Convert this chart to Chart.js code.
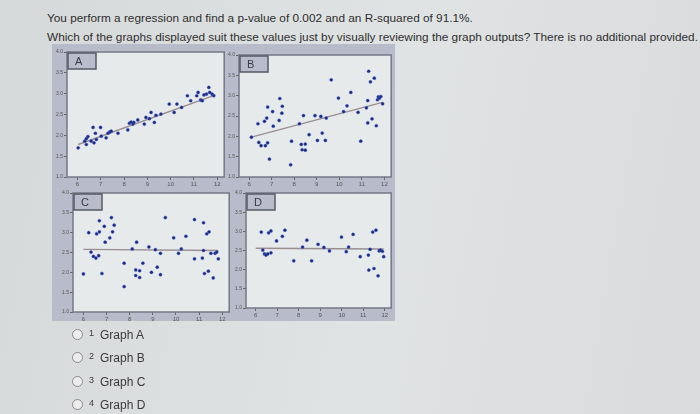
<!DOCTYPE html>
<html>
<head>
<meta charset="utf-8">
<script src="https://cdn.jsdelivr.net/npm/chart.js@4.4.1/dist/chart.umd.min.js"></script>
<style>
  body { margin: 0; width: 700px; height: 414px; overflow: hidden; position: relative;
         background: linear-gradient(100deg, #d6d9d9 0%, #e0e3e3 55%, #d9dbdc 100%);
         font-family: "Liberation Sans", Arial, sans-serif; color: #2e2e2e; }
  .q { position: absolute; left: 47px; top: 9px; font-size: 11.8px; line-height: 19px; white-space: nowrap; }
  .fig { position: absolute; left: 52px; top: 44px; width: 343px; height: 277px; background: #b8bbc9; }
  canvas { position: absolute; }
  .opt { position: absolute; left: 72px; font-size: 12px; color: #3a3a3a; }
  .opt .r { display: inline-block; width: 9px; height: 9px; border: 1px solid #8a8a8a; border-radius: 50%;
            background: #ececec; vertical-align: -1px; }
  .opt sup { font-size: 9px; margin: 0 6px 0 6px; vertical-align: 3px; }
</style>
</head>
<body>
<div class="q">You perform a regression and find a p-value of 0.002 and an R-squared of 91.1%.<br>Which of the graphs displayed suit these values just by visually reviewing the graph outputs? There is no additional provided.</div>
<div class="fig"></div>
<canvas id="gA" width="176" height="142" style="left:53px;top:47px"></canvas>
<canvas id="gB" width="171" height="139" style="left:225px;top:50px"></canvas>
<canvas id="gC" width="175" height="136" style="left:59px;top:188px"></canvas>
<canvas id="gD" width="164" height="132" style="left:232px;top:188px"></canvas>
<div class="opt" style="top:328px"><span class="r"></span><sup>1</sup>Graph A</div>
<div class="opt" style="top:351px"><span class="r"></span><sup>2</sup>Graph B</div>
<div class="opt" style="top:375px"><span class="r"></span><sup>3</sup>Graph C</div>
<div class="opt" style="top:398px"><span class="r"></span><sup>4</sup>Graph D</div>
<script>
// tick labels shared by the four panels
const xTicks = [6, 7, 8, 9, 10, 11, 12];
const yTicks = [1.0, 1.5, 2.0, 2.5, 3.0, 3.5, 4.0];

// graph A - tight linear trend
const aX = [6.03, 6.31, 6.38, 6.45, 6.38, 6.59, 6.67, 6.71, 6.81, 6.77, 6.99, 7.02, 7.23, 7.31, 7.38, 7.45,
            7.74, 8.16, 8.23, 8.30, 8.38, 8.42, 8.59, 8.87, 8.94, 9.09, 9.16, 9.30, 9.37, 9.58, 9.94, 10.15,
            10.27, 10.47, 10.72, 10.86, 11.12, 11.18, 11.29, 11.36, 11.43, 11.54, 11.64, 11.68, 11.78, 11.85];
const aY = [1.70, 1.86, 1.92, 1.97, 1.78, 1.86, 2.19, 1.82, 1.90, 2.05, 2.19, 1.98, 1.94, 2.05, 2.08, 2.10,
            2.05, 2.13, 2.29, 2.32, 2.27, 2.31, 2.37, 2.27, 2.43, 2.40, 2.55, 2.31, 2.48, 2.51, 2.75, 2.55,
            2.75, 2.67, 2.95, 2.83, 2.95, 3.03, 2.85, 2.83, 2.97, 2.99, 3.15, 3.03, 2.99, 2.95];
const aLineX = [6.03, 11.93];
const aLineY = [1.78, 2.97];

// graph B - trend with wide scatter
const bX = [6.10, 6.39, 6.43, 6.53, 6.68, 6.72, 6.78, 6.82, 6.82, 6.90, 7.04, 7.07, 7.33, 7.36, 7.45, 7.47,
            7.84, 7.88, 8.23, 8.31, 8.35, 8.41, 8.49, 8.49, 8.66, 8.92, 9.03, 9.18, 9.24, 9.38, 9.42, 9.64,
            9.96, 10.19, 10.34, 10.51, 10.83, 10.95, 11.20, 11.26, 11.26, 11.30, 11.38, 11.45, 11.55, 11.64,
            11.69, 11.73, 11.78, 11.84, 11.92];
const bY = [1.98, 2.31, 1.85, 1.77, 2.37, 1.77, 2.45, 2.72, 1.84, 1.44, 2.61, 2.25, 2.39, 2.93, 2.57, 2.74,
            1.30, 1.88, 2.31, 1.80, 1.67, 2.51, 1.81, 1.66, 2.04, 2.51, 1.90, 2.49, 2.08, 1.90, 2.45, 3.39,
            2.94, 2.61, 2.75, 3.08, 2.59, 1.88, 2.70, 2.33, 2.88, 3.60, 3.34, 2.43, 3.43, 2.26,
            2.90, 2.97, 2.94, 2.98, 2.80];
const bLineX = [6.10, 11.95];
const bLineY = [1.98, 2.84];

// graph C - no trend, wide scatter
const cX = [6.00, 6.23, 6.33, 6.43, 6.54, 6.57, 6.66, 6.69, 6.69, 6.80, 6.90, 6.94, 7.14, 7.21, 7.26, 7.33,
            7.76, 7.76, 8.11, 8.26, 8.26, 8.30, 8.43, 8.43, 8.57, 8.83, 8.94, 9.11, 9.19, 9.33, 9.33, 9.54,
            9.90, 10.11, 10.23, 10.43, 10.80, 10.80, 11.14, 11.19, 11.19, 11.23, 11.33, 11.40, 11.43, 11.51,
            11.61, 11.69, 11.76, 11.83];
const cY = [1.96, 3.00, 2.51, 2.40, 2.36, 2.97, 2.42, 3.02, 3.30, 1.97, 3.16, 2.76, 2.87, 3.38, 3.02, 3.19,
            2.23, 1.64, 2.59, 2.06, 1.92, 2.76, 2.04, 1.87, 2.23, 2.64, 2.00, 2.57, 2.13, 2.48, 1.94, 3.38,
            2.87, 2.48, 2.59, 2.91, 3.33, 2.34, 2.36, 3.25, 2.55, 1.97, 2.97, 2.03, 3.02, 2.48,
            1.86, 2.48, 2.51, 2.34];
const cLineX = [6.00, 11.83];
const cLineY = [2.58, 2.55];

// graph D - no trend, narrow scatter
const dX = [6.26, 6.33, 6.41, 6.48, 6.56, 6.60, 6.71, 6.71, 6.97, 7.24, 7.36, 7.77, 8.18, 8.38, 8.60, 8.90,
            9.17, 9.43, 9.99, 10.21, 10.32, 10.53, 10.86, 11.24, 11.32, 11.26, 11.44, 11.50, 11.59, 11.69,
            11.74, 11.80, 11.89, 11.95];
const dY = [2.98, 2.51, 2.41, 2.38, 2.41, 2.96, 2.44, 3.01, 2.75, 2.87, 3.03, 2.23, 2.59, 2.77, 2.23, 2.66,
            2.58, 2.49, 2.85, 2.47, 2.59, 2.92, 2.34, 2.38, 2.53, 1.99, 2.98, 2.03, 3.03, 1.84,
            2.49, 2.51, 2.48, 2.34];
const dLineX = [6.00, 11.95];
const dLineY = [2.56, 2.54];

const framePlugin = {
    id: 'frame',
    beforeDraw(chart) {
        const c = chart.ctx, a = chart.chartArea;
        c.save();
        c.fillStyle = '#e7eaea';
        c.fillRect(a.left, a.top, a.right - a.left, a.bottom - a.top);
        c.restore();
    },
    afterDraw(chart, args, opts) {
        const c = chart.ctx, a = chart.chartArea;
        c.save();
        c.strokeStyle = '#747887';
        c.lineWidth = 1.5;
        c.strokeRect(a.left, a.top, a.right - a.left, a.bottom - a.top);
        // letter box in the corner
        c.fillStyle = '#b9bcca';
        c.fillRect(a.left + 1, a.top + 1, 28, 16);
        c.strokeStyle = '#555a66';
        c.strokeRect(a.left + 1, a.top + 1, 28, 16);
        c.fillStyle = '#3a3a44';
        c.font = '11px "Liberation Sans", Arial';
        c.textBaseline = 'middle';
        c.fillText(opts.letter, a.left + 8, a.top + 10);
        c.restore();
    }
};

function makeChart(id, xs, ys, lx, ly, letter) {
    const pts = xs.map((x, i) => ({x: x, y: ys[i]}));
    const fit = lx.map((x, i) => ({x: x, y: ly[i]}));
    return new Chart(document.getElementById(id), {
        type: 'scatter',
        data: {
            datasets: [{
                data: pts,
                pointRadius: 1.6,
                backgroundColor: '#1c2a78',
                borderColor: 'rgba(70,100,230,0.5)',
                borderWidth: 0.8
            }, {
                type: 'line',
                data: fit,
                borderColor: '#9a8e90',
                borderWidth: 1.4,
                pointRadius: 0
            }]
        },
        options: {
            responsive: false,
            animation: false,
            layout: {padding: {top: 5, right: 4, left: 0, bottom: 0}},
            plugins: {legend: {display: false}, tooltip: {enabled: false}, frame: {letter: letter}},
            scales: {
                x: {
                    type: 'linear', min: 5.55, max: 12.3,
                    afterBuildTicks: s => { s.ticks = xTicks.map(v => ({value: v})); },
                    afterFit: s => { s.height = 12; },
                    grid: {drawOnChartArea: false, drawTicks: true, tickLength: 3, color: '#666'},
                    border: {display: false},
                    ticks: {font: {size: 6}, color: '#555', padding: 1, maxRotation: 0}
                },
                y: {
                    min: 1.0, max: 4.0,
                    afterBuildTicks: s => { s.ticks = yTicks.map(v => ({value: v})); },
                    afterFit: s => { s.width = 14; },
                    grid: {drawOnChartArea: false, drawTicks: true, tickLength: 3, color: '#666'},
                    border: {display: false},
                    ticks: {font: {size: 5}, color: '#555', padding: 1, callback: v => v.toFixed(1)}
                }
            }
        },
        plugins: [framePlugin]
    });
}

makeChart('gA', aX, aY, aLineX, aLineY, 'A');
makeChart('gB', bX, bY, bLineX, bLineY, 'B');
makeChart('gC', cX, cY, cLineX, cLineY, 'C');
makeChart('gD', dX, dY, dLineX, dLineY, 'D');
</script>
</body>
</html>
